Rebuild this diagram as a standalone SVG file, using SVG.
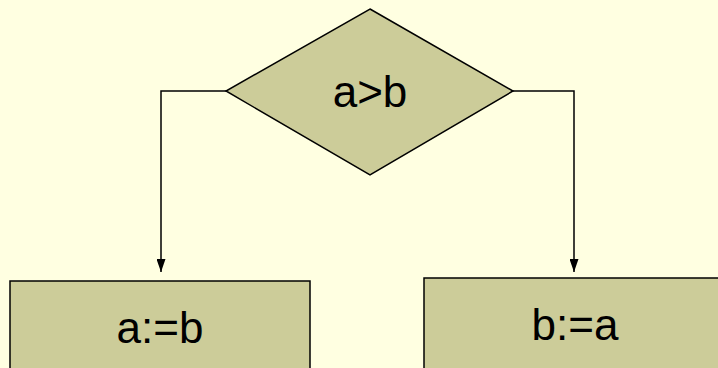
<svg xmlns="http://www.w3.org/2000/svg" width="718" height="368" viewBox="0 0 718 368">
<style>
.shape{fill:#CCCC99;stroke:#000;stroke-width:1.5}
.lbl{font-family:"Liberation Sans",Arial,sans-serif;font-size:44px;fill:#000;text-anchor:middle}
.conn{fill:none;stroke:#000;stroke-width:1.5}
</style>
<defs>
<marker id="arr" markerWidth="13" markerHeight="9" refX="13" refY="4.5" orient="auto" markerUnits="userSpaceOnUse" viewBox="0 0 13 9">
<path d="M0,0 L13,4.5 L0,9 Z" fill="#000"/>
</marker>
</defs>
<rect width="718" height="368" fill="#FFFFE1"/>
<g id="connectors">
<path class="conn" d="M226,91 H161 V272" marker-end="url(#arr)"/>
<path class="conn" d="M513,91 H574 V272" marker-end="url(#arr)"/>
</g>
<g id="decision">
<polygon class="shape" points="370,9 513,91 370,175 226,91"/>
<text class="lbl" x="370" y="107">a&gt;b</text>
</g>
<g id="assign-a">
<rect class="shape" x="10" y="281" width="300" height="100"/>
<text class="lbl" x="160" y="343">a:=b</text>
</g>
<g id="assign-b">
<rect class="shape" x="424" y="278" width="310" height="100"/>
<text class="lbl" x="575" y="340">b:=a</text>
</g>
</svg>
